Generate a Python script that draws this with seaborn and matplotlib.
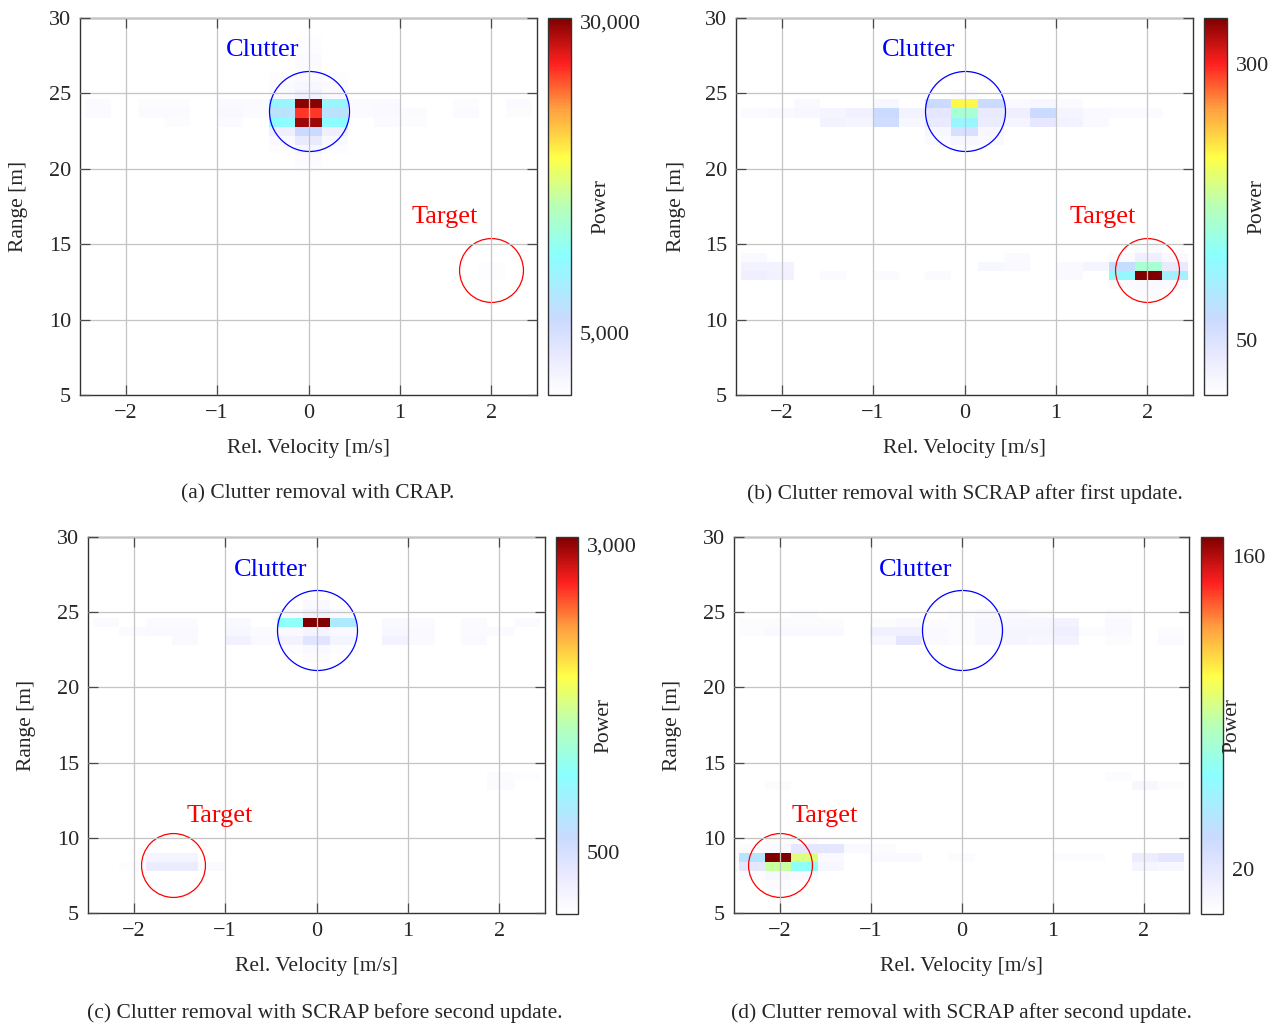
import numpy as np
import pandas as pd
import matplotlib
matplotlib.use("Agg")
import matplotlib.pyplot as plt
import seaborn as sns
from matplotlib.colors import LinearSegmentedColormap
from matplotlib.ticker import FuncFormatter

sns.set_theme(style="white")
plt.rcParams["font.family"] = ["Liberation Serif", "DejaVu Serif"]
plt.rcParams["axes.unicode_minus"] = True

# ---------------- data ----------------
vel_step = 0.2875          # m/s per Doppler bin
rng_step = 0.6             # m per range bin
vel_ticks = [-2, -1, 0, 1, 2]
rng_ticks = [5, 10, 15, 20, 25, 30]

# panel (a): CRAP
a_rows = [28.5, 27.9, 27.3, 26.7, 26.1, 25.5, 24.9, 24.3, 23.7, 23.1, 22.5, 21.9, 21.3, 20.7, 20.1, 13.5, 12.9]
a_vel = [[0], [0], [0], [0],
         [-0.29, 0, 0.29], [-0.29, 0, 0.29], [-0.29, 0, 0.29],
         [-2.30, -1.73, -1.44, -0.86, -0.58, -0.29, 0, 0.29, 0.58, 0.86, 1.73, 2.30],
         [-2.30, -1.73, -1.44, -0.86, -0.58, -0.29, 0, 0.29, 0.58, 0.86, 1.15, 1.73, 2.30],
         [-1.44, -0.86, -0.29, 0, 0.29, 0.86, 1.15],
         [-0.29, 0, 0.29], [-0.29, 0, 0.29], [-0.29, 0, 0.29],
         [0], [0], [2.01], [2.01]]
a_pow = [[450], [450], [600], [600],
         [450, 750, 450], [600, 1200, 600], [900, 2100, 900],
         [600, 500, 500, 900, 600, 10000, 30000, 10000, 600, 900, 500, 600],
         [600, 600, 700, 1000, 600, 7300, 26000, 7300, 600, 900, 600, 700, 500],
         [500, 700, 10900, 29400, 10900, 700, 500],
         [2400, 6000, 2400], [900, 3000, 900], [450, 1200, 450],
         [750], [450], [450], [450]]

# panel (b): SCRAP after first update
b_rows = [24.9, 24.3, 23.7, 23.1, 22.5, 21.9, 21.3, 14.7, 14.1, 13.5, 12.9, 12.3, 11.7]
b_vel = [[0],
         [-1.73, -0.86, -0.29, 0, 0.29, 0.58, 0.86, 1.15],
         [-2.30, -2.01, -1.73, -1.44, -1.15, -0.86, -0.58, -0.29, 0, 0.29, 0.58, 0.86, 1.15, 1.44, 1.73, 2.01],
         [-1.44, -1.15, -0.86, -0.58, -0.29, 0, 0.29, 0.58, 0.86, 1.15, 1.44],
         [-0.29, 0, 0.29], [-0.29, 0, 0.29], [0],
         [2.01],
         [-2.30, 0.58, 1.73, 2.01, 2.30],
         [-2.30, -2.01, 0.29, 0.58, 1.15, 1.44, 1.73, 2.01, 2.30],
         [-2.30, -2.01, -1.44, -0.86, -0.29, 1.15, 1.73, 2.01, 2.30],
         [1.73, 2.01, 2.30], [2.01]]
b_pow = [[7],
         [10, 14, 68, 219, 68, 10, 14, 8],
         [7, 10, 14, 17, 24, 68, 20, 41, 154, 34, 27, 68, 17, 10, 7, 7],
         [20, 17, 62, 14, 34, 113, 31, 17, 38, 20, 10],
         [14, 55, 14], [7, 14, 10], [5],
         [6],
         [10, 7, 7, 27, 10],
         [20, 20, 14, 10, 10, 17, 75, 154, 34],
         [27, 24, 7, 7, 7, 10, 120, 342, 103],
         [7, 10, 7], [7]]

# panel (c): SCRAP before second update
c_rows = [25.5, 24.9, 24.3, 23.7, 23.1, 22.5, 21.9, 14.1, 13.5, 8.7, 8.1]
c_vel = [[0],
         [-0.29, 0, 0.29],
         [-2.30, -1.73, -1.44, -0.86, -0.29, 0, 0.29, 0.86, 1.15, 1.73, 2.30],
         [-2.01, -1.73, -1.44, -0.86, -0.58, -0.29, 0, 0.29, 0.86, 1.15, 1.73, 2.01],
         [-1.44, -0.86, -0.58, -0.29, 0, 0.29, 0.86, 1.15, 1.73],
         [-0.29, 0, 0.29], [0],
         [2.01, 2.30], [2.01],
         [-1.73, -1.44],
         [-2.01, -1.73, -1.44, -1.15]]
c_pow = [[90],
         [90, 180, 90],
         [60, 60, 60, 90, 1160, 3060, 860, 90, 60, 60, 60],
         [60, 90, 90, 120, 60, 90, 150, 90, 120, 90, 60, 60],
         [90, 210, 90, 180, 400, 150, 180, 90, 90],
         [40, 90, 40], [50],
         [50, 40], [60],
         [150, 150],
         [40, 275, 275, 60]]

# panel (d): SCRAP after second update
d_rows = [24.9, 24.3, 23.7, 23.1, 14.1, 13.5, 9.9, 9.3, 8.7, 8.1, 7.5, 6.9]
d_vel = [[-1.73, 0, 0.29, 0.58, 0.86, 1.73],
         [-2.30, -2.01, -1.73, -1.44, -0.86, -0.58, -0.29, 0, 0.29, 0.58, 0.86, 1.15, 1.73],
         [-2.30, -2.01, -1.73, -1.44, -0.86, -0.58, -0.29, 0, 0.29, 0.58, 0.86, 1.15, 1.44, 1.73, 2.30],
         [-0.86, -0.58, -0.29, 0, 0.29, 0.58, 0.86, 1.15, 1.73, 2.30],
         [1.73],
         [-2.01, 2.01, 2.30],
         [-2.01, -1.73],
         [-2.30, -2.01, -1.73, -1.44, -1.15, -0.86],
         [-2.30, -2.01, -1.73, -1.44, -0.86, -0.58, 0, 1.15, 1.44, 2.01, 2.30],
         [-2.30, -2.01, -1.73, -1.44, 2.01, 2.30],
         [-2.30, -2.01, -1.73],
         [-2.01]]
d_pow = [[3, 3, 5, 5, 3, 3],
         [3, 3, 3, 3, 3, 5, 3, 3, 7, 7, 7, 10, 5],
         [3, 5, 5, 5, 12, 12, 5, 3, 7, 8, 8, 13, 3, 5, 3],
         [7, 20, 5, 3, 7, 8, 7, 10, 3, 5],
         [3],
         [3, 7, 3],
         [3, 3],
         [3, 5, 20, 20, 5, 3],
         [42, 168, 96, 5, 5, 5, 3, 3, 3, 15, 20],
         [20, 89, 64, 7, 8, 7],
         [3, 7, 5],
         [3]]

power_max = [30300, 342, 3060, 168.5]
power_ticks = [[5000, 30000], [50, 300], [500, 3000], [20, 160]]
captions = ["(a) Clutter removal with CRAP.",
            "(b) Clutter removal with SCRAP after first update.",
            "(c) Clutter removal with SCRAP before second update.",
            "(d) Clutter removal with SCRAP after second update."]
clutter_circle = [(0.0, 23.82), (0.0, 23.82), (0.0, 23.8), (0.0, 23.8)]
target_circle = [(2.0, 13.29), (2.0, 13.29), (-1.57, 8.22), (-2.0, 8.21)]
clutter_text = [(-0.5, 27.9), (-0.5, 27.9), (-0.5, 27.8), (-0.5, 27.8)]
target_text = [(1.49, 16.8), (1.51, 16.8), (-1.06, 11.45), (-1.5, 11.45)]

# ---------------- layout (pixels) ----------------
W, H = 1278, 1024
ax_boxes = [(80, 18, 537, 395), (736, 18, 1193, 395), (88, 537, 545, 913), (734, 537, 1189, 913)]
cb_boxes = [(548, 18, 571, 395), (1204, 18, 1227, 395), (556, 537, 578, 914), (1201, 537, 1223, 914)]
power_label_x = [2.29, 2.32, 2.2, 1.42]
ylabel_x = [-0.1335, -0.131, -0.1335, -0.136]
caption_xy = [(318, 494), (965, 494), (325, 1013), (961, 1013)]

cmap = LinearSegmentedColormap.from_list("power", [
    (0.00, "#ffffff"), (0.10, "#eaeaff"), (0.20, "#cadaff"), (0.37, "#8affff"),
    (0.50, "#b8ffb8"), (0.63, "#ffff48"), (0.76, "#ffa040"), (0.88, "#ff2020"),
    (1.00, "#800000")])

vel_edges = (np.arange(-8, 10) - 0.5) * vel_step
rng_edges = np.arange(8, 51) * rng_step

fig = plt.figure(figsize=(W / 100, H / 100), dpi=100)


def box(b):
    l, t, r, bt = b
    return [l / W, 1 - bt / H, (r - l) / W, (bt - t) / H]


def comma(x, pos):
    return f"{int(round(x)):,}"


panels = [(a_rows, a_vel, a_pow), (b_rows, b_vel, b_pow),
          (c_rows, c_vel, c_pow), (d_rows, d_vel, d_pow)]

for i, (rows, vels, pows) in enumerate(panels):
    recs = []
    for r, vs, ps in zip(rows, vels, pows):
        for v, p in zip(vs, ps):
            recs.append((v, r, p))
    df = pd.DataFrame(recs, columns=["vel", "rng", "power"])

    ax = fig.add_axes(box(ax_boxes[i]))
    cax = fig.add_axes(box(cb_boxes[i]))
    ax.grid(True, color="#c4c4c4", linewidth=0.9)
    ax.set_axisbelow(False)

    sns.histplot(data=df, x="vel", y="rng", weights="power",
                 bins=(vel_edges, rng_edges), cmap=cmap,
                 vmin=0, vmax=power_max[i], ax=ax,
                 cbar=True, cbar_ax=cax,
                 cbar_kws={"ticks": power_ticks[i], "format": FuncFormatter(comma)})

    ax.set_xlim(-2.5, 2.5)
    ax.set_ylim(5, 30)
    ax.set_xticks(vel_ticks)
    ax.set_yticks(rng_ticks)
    ax.grid(True, color="#c4c4c4", linewidth=0.9)
    ax.set_xlabel("")
    ax.set_ylabel("")
    ax.tick_params(direction="in", length=7, width=0.9, color="#4a4a4a",
                   top=True, right=True, bottom=True, left=True,
                   labelsize=16, pad=6.5)
    for s in ax.spines.values():
        s.set_color("#333333")
        s.set_linewidth(1.0)
        s.set_visible(True)

    ax.text(0.5, -0.142, "Rel. Velocity [m/s]", transform=ax.transAxes,
            ha="center", va="center", fontsize=15.5)
    ax.text(ylabel_x[i], 0.5, "Range [m]", transform=ax.transAxes,
            rotation=90, ha="center", va="center", fontsize=15.5)

    # circles
    cx, cy = clutter_circle[i]
    ax.plot([cx], [cy], ls="", marker="o", ms=57.6, mfc="none", mec="#0000ff", mew=0.9)
    tx, ty = target_circle[i]
    ax.plot([tx], [ty], ls="", marker="o", ms=46, mfc="none", mec="#ff0000", mew=0.9)
    ax.text(*clutter_text[i], "Clutter", color="#0000ff", fontsize=19, ha="center", va="center")
    ax.text(*target_text[i], "Target", color="#ff0000", fontsize=19, ha="center", va="center")

    # colorbar styling
    cax.tick_params(direction="in", length=16, width=0.9, color="#8a8a8a",
                    labelsize=16, pad=6.5, right=True, left=False)
    cax.yaxis.set_ticks_position("right")
    for s in cax.spines.values():
        s.set_color("#333333")
        s.set_linewidth(1.0)
    cax.text(power_label_x[i], 0.5, "Power", transform=cax.transAxes,
             rotation=90, ha="center", va="center", fontsize=15.5)

    fig.text(caption_xy[i][0] / W, 1 - caption_xy[i][1] / H, captions[i],
             ha="center", va="center", fontsize=15.5)

fig.savefig("out.png", dpi=100)
